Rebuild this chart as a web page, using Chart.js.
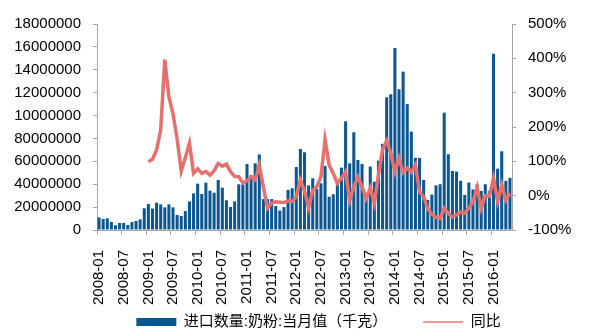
<!DOCTYPE html>
<html>
<head>
<meta charset="utf-8">
<script src="https://cdn.jsdelivr.net/npm/chart.js@4.4.1/dist/chart.umd.min.js"></script>
<style>
  body { margin: 0; background: #fff; }
  #wrap { width: 589px; height: 335px; }
</style>
</head>
<body>
<div id="wrap"><canvas id="chart" width="589" height="335"></canvas></div>
<script>
// meses: 2008-01 .. 2016-05
var meses = [];
for (var y = 2008; y <= 2016; y++) {
    for (var m = 1; m <= 12; m++) {
        if (y === 2016 && m > 5) break;
        meses.push(y + '-' + (m < 10 ? '0' + m : m));
    }
}

// 进口数量:奶粉:当月值 (百万千克)
var cantidades = [
    1.10, 0.96, 1.02, 0.70, 0.41, 0.61, 0.61, 0.44, 0.70, 0.79, 0.93, 1.90,
    2.27, 1.87, 2.39, 2.24, 1.98, 2.24, 1.98, 1.31, 1.22, 1.66, 2.50, 3.20,
    4.05, 3.15, 4.14, 3.44, 3.26, 4.37, 3.70, 2.60, 2.01, 2.50, 3.99, 3.99,
    5.77, 4.80, 5.83, 6.60, 2.70, 2.70, 2.70, 2.10, 1.70, 2.00, 3.50, 3.65,
    5.50, 7.08, 6.79, 3.90, 4.52, 3.58, 4.08, 5.60, 2.91, 3.12, 4.08, 5.45,
    9.50, 5.83, 8.54, 6.12, 5.77, 3.06, 5.54, 4.22, 6.06, 7.52, 11.60, 11.86,
    15.90, 12.30, 13.84, 11.00, 8.60, 6.30, 6.30, 4.37, 2.62, 3.10, 3.90, 4.00,
    10.25, 6.62, 5.16, 5.10, 4.30, 3.06, 4.15, 3.54, 4.00, 3.41, 4.00, 3.40,
    15.40, 5.36, 6.88, 4.30, 4.56
];

// 同比 (%)
var tongbi = [
    null, null, null, null, null, null, null, null, null, null, null, null,
    99, 106, 133, 191, 396, 288, 238, 165, 72, 111, 153, 65,
    78, 65, 70, 60, 73, 94, 86, 92, 70, 56, 55, 37,
    43, 55, 46, 89, 25, -37, -21, -18, -19, -20, -15, -17,
    -3, 46, 14, -35, 15, 26, 55, 163, 89, 65, 36, 51,
    70, -15, 26, 54, 26, -8, 22, -22, 60, 135, 160, 123,
    70, 109, 68, 80, 68, 90, 10, -3, -38, -55, -63, -66,
    -37, -51, -62, -56, -48, -51, -35, -20, 24, -37, 0, -1,
    51, -17, 31, -13, 7
];

// etiquetas del eje izquierdo (tal como aparecen)
var ticksIzq = ['0', '20000000', '40000000', '60000000', '80000000',
    '10000000', '12000000', '14000000', '16000000', '18000000'];

var gris = '#a6a6a6';
var fuente = '"Liberation Sans", Arial, "Noto Sans CJK SC", sans-serif';

// mover la leyenda un poco (a la derecha y arriba) despues del layout
var moverLeyenda = {
    id: 'moverLeyenda',
    afterLayout: function (chart) {
        chart.legend.left = 48;
        chart.legend.top = 278.5;
    }
};

var ctx = document.getElementById('chart').getContext('2d');
var chart = new Chart(ctx, {
    type: 'bar',
    data: {
        labels: meses,
        datasets: [{
            type: 'bar',
            label: '进口数量:奶粉:当月值（千克）',
            data: cantidades.map(function (v) { return v * 1000000; }),
            backgroundColor: '#0d5790',
            borderWidth: 0,
            barPercentage: 0.78,
            categoryPercentage: 0.95,
            yAxisID: 'y',
            order: 1
        }, {
            type: 'line',
            label: '同比',
            data: tongbi,
            borderColor: '#e6706d',
            backgroundColor: '#e6706d',
            borderWidth: 3.5,
            pointRadius: 0,
            tension: 0,
            yAxisID: 'y1',
            order: 0
        }]
    },
    plugins: [moverLeyenda],
    options: {
        responsive: false,
        animation: false,
        layout: { padding: { left: 0, right: 0, top: 24, bottom: 0 } },
        plugins: {
            tooltip: { enabled: false },
            legend: {
                position: 'bottom',
                maxHeight: 29,
                labels: {
                    usePointStyle: true,
                    pointStyleWidth: 40,
                    boxHeight: 8,
                    padding: 36,
                    color: '#000',
                    font: { family: fuente, size: 15 },
                    sort: function (a, b) { return a.datasetIndex - b.datasetIndex; },
                    generateLabels: function (chart) {
                        var items = Chart.defaults.plugins.legend.labels.generateLabels(chart);
                        items.forEach(function (it) {
                            if (it.datasetIndex === 0) {
                                it.pointStyle = 'rect';
                                it.lineWidth = 0;
                            } else {
                                it.pointStyle = 'line';
                                it.strokeStyle = '#ef9a98';
                                it.lineWidth = 2;
                            }
                        });
                        return items;
                    }
                }
            }
        },
        scales: {
            x: {
                offset: true,
                grid: {
                    offset: true,
                    drawOnChartArea: false,
                    tickLength: 5,
                    color: function (c) {
                        return (c.index !== undefined && c.index % 6 === 0) ? gris : 'rgba(0,0,0,0)';
                    }
                },
                border: { display: true, color: gris },
                ticks: {
                    autoSkip: false,
                    minRotation: 90,
                    maxRotation: 90,
                    padding: 15,
                    color: '#000',
                    font: { family: fuente, size: 15 },
                    callback: function (v, i) {
                        return i % 6 === 0 ? meses[i] : '';
                    }
                },
                afterFit: function (s) { s.height = 76; }
            },
            y: {
                position: 'left',
                min: 0,
                max: 18000000,
                grid: { drawOnChartArea: false, tickLength: 4, color: gris },
                border: { display: true, color: gris },
                ticks: {
                    stepSize: 2000000,
                    padding: 12,
                    color: '#000',
                    font: { family: fuente, size: 15 },
                    callback: function (v) {
                        return ticksIzq[Math.round(v / 2000000)];
                    }
                },
                afterFit: function (s) { s.width = 97; }
            },
            y1: {
                position: 'right',
                min: -100,
                max: 500,
                grid: { drawOnChartArea: false, tickLength: 4, color: gris },
                border: { display: true, color: gris },
                ticks: {
                    stepSize: 100,
                    padding: 12,
                    color: '#000',
                    font: { family: fuente, size: 15 },
                    callback: function (v) { return v + '%'; }
                },
                afterFit: function (s) { s.width = 77; }
            }
        }
    }
});
</script>
</body>
</html>
